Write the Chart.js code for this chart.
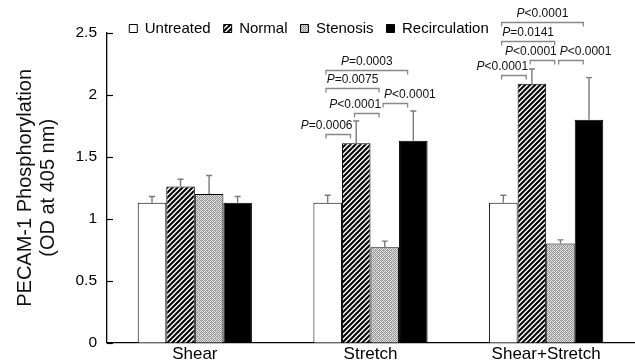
<!DOCTYPE html>
<html>
<head>
<meta charset="utf-8">
<script src="https://cdn.jsdelivr.net/npm/chart.js@4/dist/chart.umd.min.js"></script>
<style>
  html, body { margin: 0; padding: 0; background: #fff; }
</style>
</head>
<body>
<canvas id="grafico" width="635" height="362"></canvas>
<script>
const categorias = ['Shear', 'Stretch', 'Shear+Stretch']
const grupos = ['Untreated', 'Normal', 'Stenosis', 'Recirculation']

const untreated = [1.13, 1.13, 1.13]
const normal = [1.26, 1.61, 2.09]
const stenosis = [1.20, 0.77, 0.80]
const recirculation = [1.13, 1.63, 1.80]

// desvio (so para cima)
const erroUntreated = [0.05, 0.06, 0.06]
const erroNormal = [0.06, 0.18, 0.12]
const erroStenosis = [0.15, 0.05, 0.03]
const erroRecirculation = [0.05, 0.24, 0.34]

const yTicks = [0, 0.5, 1, 1.5, 2, 2.5]

// [categoria, barra inicial, barra final, altura, texto]
const comparacoes = [
  [1, 0, 1, 1.685, 'P=0.0006'],
  [1, 1, 2, 1.855, 'P<0.0001'],
  [1, 0, 2, 2.056, 'P=0.0075'],
  [1, 0, 3, 2.204, 'P=0.0003'],
  [1, 2, 3, 1.935, 'P<0.0001'],
  [2, 0, 1, 2.164, 'P<0.0001'],
  [2, 1, 2, 2.279, 'P<0.0001'],
  [2, 0, 2, 2.432, 'P=0.0141'],
  [2, 0, 3, 2.586, 'P<0.0001'],
  [2, 2, 3, 2.279, 'P<0.0001']
]
const alinhamento = ['end', 'end', 'center', 'center', 'start', 'end', 'end', 'center', 'center', 'start']

const series = [untreated, normal, stenosis, recirculation]
const erros = [erroUntreated, erroNormal, erroStenosis, erroRecirculation]

const FONTE = '"Liberation Sans", Arial, sans-serif'
Chart.defaults.font.family = FONTE
Chart.defaults.color = '#000'

function hachura() {
  const c = document.createElement('canvas')
  c.width = 5; c.height = 5
  const g = c.getContext('2d')
  g.fillStyle = '#fff'
  g.fillRect(0, 0, 5, 5)
  g.strokeStyle = '#000'
  g.lineWidth = 2.1
  g.beginPath()
  g.moveTo(-1, 6); g.lineTo(6, -1)
  g.moveTo(-1, 1); g.lineTo(1, -1)
  g.moveTo(4, 6); g.lineTo(6, 4)
  g.stroke()
  return g.createPattern(c, 'repeat')
}

function pontilhado() {
  const c = document.createElement('canvas')
  c.width = 4; c.height = 4
  const g = c.getContext('2d')
  g.fillStyle = '#e6e6e6'
  g.fillRect(0, 0, 4, 4)
  g.fillStyle = '#9a9a9a'
  for (let x = 0; x < 4; x++) {
    for (let y = 0; y < 4; y++) {
      if ((x + y) % 2 == 0) g.fillRect(x, y, 1, 1)
    }
  }
  g.fillStyle = '#b8b8b8'
  g.fillRect(1, 0, 1, 1)
  g.fillRect(3, 2, 1, 1)
  return g.createPattern(c, 'repeat')
}

const preenchimentos = ['#fff', hachura(), pontilhado(), '#000']

const barrasDeErro = {
  id: 'barrasDeErro',
  afterDatasetsDraw(chart) {
    const {ctx, scales: {y}} = chart
    ctx.save()
    ctx.strokeStyle = '#7a7a7a'
    ctx.lineWidth = 1.4
    erros.forEach((erro, d) => {
      chart.getDatasetMeta(d).data.forEach((bar, i) => {
        const topo = y.getPixelForValue(series[d][i] + erro[i])
        ctx.beginPath()
        ctx.moveTo(bar.x, bar.y)
        ctx.lineTo(bar.x, topo)
        ctx.moveTo(bar.x - 3, topo)
        ctx.lineTo(bar.x + 3, topo)
        ctx.stroke()
      })
    })
    ctx.restore()
  }
}

const marcasInternas = {
  id: 'marcasInternas',
  afterDraw(chart) {
    const {ctx, chartArea, scales: {y}} = chart
    ctx.save()
    ctx.strokeStyle = '#000'
    ctx.lineWidth = 1.2
    y.ticks.forEach((t, i) => {
      const py = Math.round(y.getPixelForTick(i)) + 0.5
      ctx.beginPath()
      ctx.moveTo(chartArea.left, py)
      ctx.lineTo(chartArea.left + 6, py)
      ctx.stroke()
    })
    ctx.restore()
  }
}

const colchetes = {
  id: 'colchetes',
  afterDraw(chart) {
    const {ctx, scales: {y}} = chart
    ctx.save()
    comparacoes.forEach(([cat, a, b, nivel, texto], k) => {
      const barA = chart.getDatasetMeta(a).data[cat]
      const barB = chart.getDatasetMeta(b).data[cat]
      const x1 = barA.x - 0.06 * barA.width
      const x2 = barB.x - 0.2 * barB.width
      const py = Math.round(y.getPixelForValue(nivel)) + 0.5
      ctx.strokeStyle = '#888'
      ctx.lineWidth = 1.3
      ctx.beginPath()
      ctx.moveTo(x1, py + 4)
      ctx.lineTo(x1, py)
      ctx.lineTo(x2, py)
      ctx.lineTo(x2, py + 4)
      ctx.stroke()

      const resto = texto.slice(1)
      ctx.font = 'italic 12px ' + FONTE
      const wP = ctx.measureText('P').width
      ctx.font = '12px ' + FONTE
      const wR = ctx.measureText(resto).width
      const total = wP + wR
      let tx
      if (alinhamento[k] == 'end') tx = x2 + 2 - total
      else if (alinhamento[k] == 'start') tx = x1 + 1
      else tx = (x1 + x2) / 2 - total / 2
      const ty = py - 8.5
      ctx.fillStyle = '#111'
      ctx.textBaseline = 'middle'
      ctx.textAlign = 'left'
      ctx.font = 'italic 12px ' + FONTE
      ctx.fillText('P', tx, ty)
      ctx.font = '12px ' + FONTE
      ctx.fillText(resto, tx + wP, ty)
    })
    ctx.restore()
  }
}

const ajusteLegenda = {
  id: 'ajusteLegenda',
  afterLayout(chart) {
    const lg = chart.legend
    lg.top = 8
    lg.right = lg.right - 16
  }
}

new Chart(document.getElementById('grafico'), {
  type: 'bar',
  data: {
    labels: categorias,
    datasets: grupos.map((g, d) => ({
      label: g,
      data: series[d],
      backgroundColor: preenchimentos[d],
      borderColor: '#000',
      borderWidth: 1,
      categoryPercentage: 0.65,
      barPercentage: 1.0
    }))
  },
  options: {
    responsive: false,
    animation: false,
    layout: { padding: { top: 0, right: 1, left: 0, bottom: 0 } },
    plugins: {
      legend: {
        position: 'top',
        maxHeight: 33,
        labels: {
          boxWidth: 8,
          boxHeight: 8,
          padding: 13,
          color: '#000',
          font: { size: 15 }
        }
      },
      tooltip: { enabled: false }
    },
    scales: {
      x: {
        ticks: { padding: 1, color: '#000', font: { size: 17 } },
        grid: { display: false, drawTicks: false },
        border: { color: '#000', width: 1.3 },
        afterFit: s => { s.height = 18.7 }
      },
      y: {
        min: 0,
        max: 2.5,
        afterBuildTicks: s => { s.ticks = yTicks.map(v => ({ value: v })) },
        ticks: {
          padding: 10,
          color: '#000',
          font: { size: 15.5 },
          callback: v => String(v)
        },
        grid: { display: false, drawTicks: false },
        border: { color: '#000', width: 1.3 },
        title: {
          display: true,
          text: ['PECAM-1 Phosphorylation', '(OD at 405 nm)'],
          color: '#111',
          font: { size: 20, lineHeight: 1.15 },
          padding: { top: 13.5, bottom: 0 }
        },
        afterFit: s => { s.width = 107 }
      }
    }
  },
  plugins: [barrasDeErro, marcasInternas, colchetes, ajusteLegenda]
})
</script>
</body>
</html>
